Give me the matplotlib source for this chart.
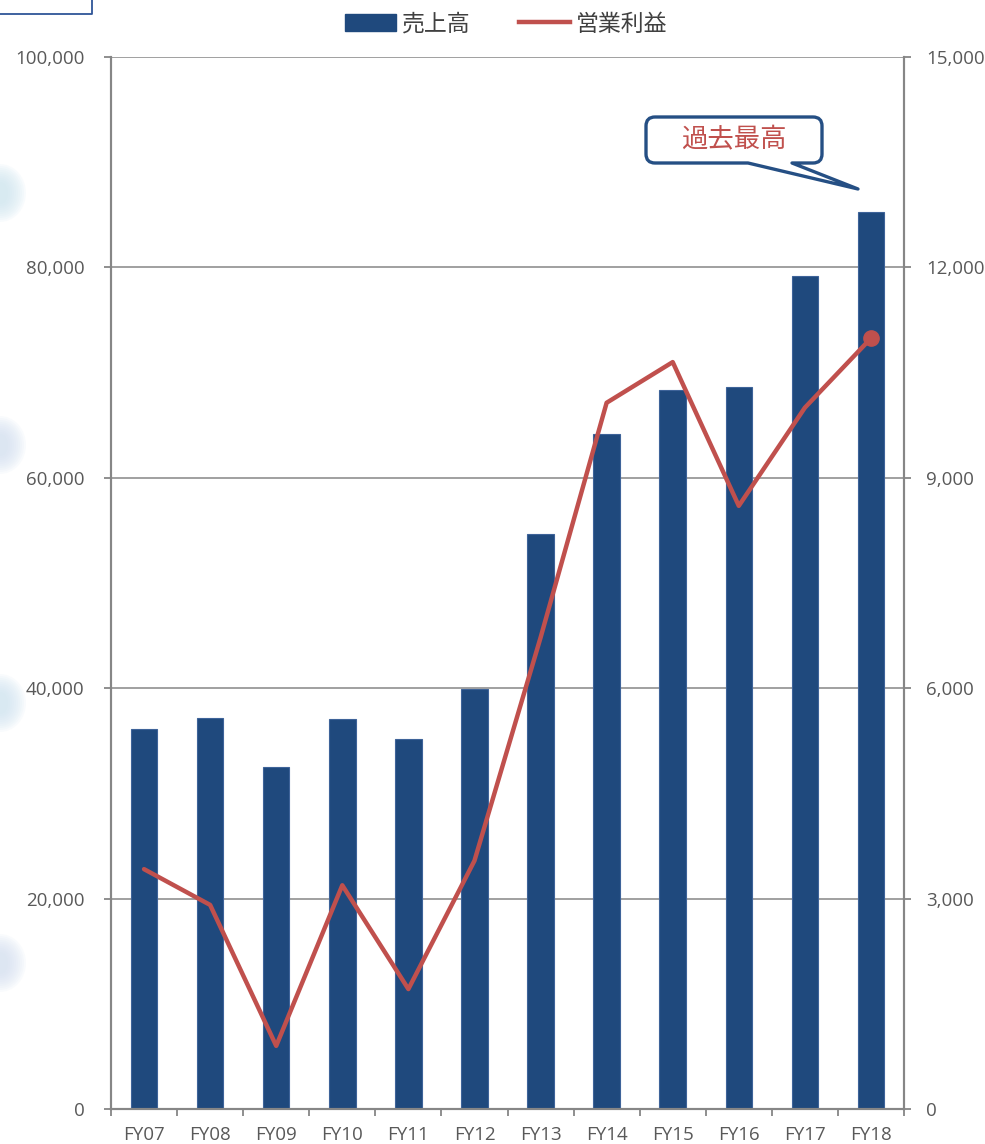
from __future__ import annotations

import matplotlib

matplotlib.use("Agg")
import matplotlib.pyplot as plt
from matplotlib.lines import Line2D
from matplotlib.patches import Ellipse, Patch, PathPatch
from matplotlib.path import Path
from matplotlib.ticker import FuncFormatter, MultipleLocator

years = ["FY07", "FY08", "FY09", "FY10", "FY11", "FY12",
         "FY13", "FY14", "FY15", "FY16", "FY17", "FY18"]
sales = [36100, 37200, 32500, 37100, 35200, 39900,
         54700, 64200, 68300, 68600, 79200, 85300]
op_profit = [3420, 2910, 900, 3190, 1710, 3540,
             6720, 10070, 10650, 8600, 10000, 10990]

BAR = "#1F497D"
RED = "#C0504D"
GRAY = "#868686"
TEXT = "#595959"
W, H = 985, 1144

plt.rcParams["font.family"] = ["Open Sans", "Noto Sans CJK JP", "DejaVu Sans"]


def px(x, y):
    # pixel coords (y down) -> figure fraction
    return x / W, 1 - y / H


def main() -> None:
    fig = plt.figure(figsize=(W / 100, H / 100), dpi=100)
    x0, y1 = px(111, 57)
    x1, y0 = px(904, 1109)
    ax = fig.add_axes([x0, y0, x1 - x0, y1 - y0])
    ax2 = ax.twinx()

    xs = list(range(len(years)))
    ax.bar(xs, sales, width=0.4, color=BAR, edgecolor="#3E6399", linewidth=0.8, zorder=2)
    ax2.plot(xs, op_profit, color=RED, linewidth=3.2, solid_capstyle="round", zorder=3)
    ax2.plot(xs[-1], op_profit[-1], "o", color=RED, markersize=11, zorder=4)

    ax.set_xlim(-0.5, len(years) - 0.5)
    ax.set_ylim(0, 100000)
    ax2.set_ylim(0, 15000)
    ax.yaxis.set_major_locator(MultipleLocator(20000))
    ax2.yaxis.set_major_locator(MultipleLocator(3000))
    fmt = FuncFormatter(lambda v, _: f"{int(v):,}")
    ax.yaxis.set_major_formatter(fmt)
    ax2.yaxis.set_major_formatter(fmt)
    ax.grid(axis="y", color=GRAY, linewidth=1.1, zorder=0)
    ax.set_axisbelow(True)

    ax.set_xticks(xs)
    ax.set_xticklabels(years)
    ax.set_xticks([i - 0.5 for i in range(len(years) + 1)], minor=True)
    ax.tick_params(axis="x", which="major", length=0, pad=12.5, labelsize=13.5, labelcolor=TEXT)
    ax.tick_params(axis="x", which="minor", length=5, width=1.3, color=GRAY, direction="out")
    ax.tick_params(axis="y", length=5, width=1.3, color=GRAY, pad=14, labelsize=13.5, labelcolor=TEXT)
    ax2.tick_params(axis="y", length=5, width=1.3, color=GRAY, pad=11, labelsize=13.5, labelcolor=TEXT)

    for a in (ax, ax2):
        a.spines["top"].set_visible(False)
        for s in ("left", "right", "bottom"):
            a.spines[s].set_color(GRAY)
            a.spines[s].set_linewidth(1.5)

    handles = [
        Patch(facecolor=BAR, edgecolor=BAR, label="売上高"),
        Line2D([0], [0], color=RED, linewidth=3.2, label="営業利益"),
    ]
    fig.legend(handles=handles, loc="center", bbox_to_anchor=px(506, 24), ncol=2,
               frameon=False, handlelength=2.25, handleheight=0.7,
               handletextpad=0.25, columnspacing=2.1, labelcolor="#404040",
               prop={"family": ["Noto Sans CJK JP"], "size": 16.5})

    # callout "過去最高"
    bx0, bx1, by0, by1, r = 646, 822, 117, 163, 9
    pts = [
        ((bx0 + r, by0), Path.MOVETO),
        ((bx1 - r, by0), Path.LINETO),
        ((bx1, by0), Path.CURVE3), ((bx1, by0 + r), Path.CURVE3),
        ((bx1, by1 - r), Path.LINETO),
        ((bx1, by1), Path.CURVE3), ((bx1 - r, by1), Path.CURVE3),
        ((792, by1), Path.LINETO),
        ((858, 189), Path.LINETO),
        ((748, by1), Path.LINETO),
        ((bx0 + r, by1), Path.LINETO),
        ((bx0, by1), Path.CURVE3), ((bx0, by1 - r), Path.CURVE3),
        ((bx0, by0 + r), Path.LINETO),
        ((bx0, by0), Path.CURVE3), ((bx0 + r, by0), Path.CURVE3),
        ((bx0 + r, by0), Path.CLOSEPOLY),
    ]
    verts = [px(*p) for p, _ in pts]
    codes = [c for _, c in pts]
    fig.patches.append(PathPatch(Path(verts, codes), facecolor="white", edgecolor="#254F84",
                                 linewidth=2.4, joinstyle="round", transform=fig.transFigure,
                                 zorder=5))
    fig.text(*px(734, 140), "過去最高", ha="center", va="center", color=RED,
             fontsize=19, family=["Noto Sans CJK JP"], zorder=6)

    # page decorations at the left edge
    fig.lines.append(Line2D([px(0, 14)[0], px(92, 14)[0], px(92, 0)[0]],
                            [px(0, 14)[1], px(92, 14)[1], px(92, 0)[1]],
                            color="#2F5597", linewidth=1.3, transform=fig.transFigure))
    for cy, col in [(193, "#CDE6F0"), (445, "#D3E0F2"), (703, "#CFE4F2"), (963, "#D5E0F2")]:
        for k in range(10):
            w = 52 - k * 4
            h = 58 - k * 4
            c = px(0, cy)
            fig.patches.append(Ellipse(c, w / W, h / H, facecolor=col, edgecolor="none",
                                       alpha=0.12, transform=fig.transFigure, zorder=0))

    fig.savefig("out.png", dpi=100)


if __name__ == "__main__":
    main()
